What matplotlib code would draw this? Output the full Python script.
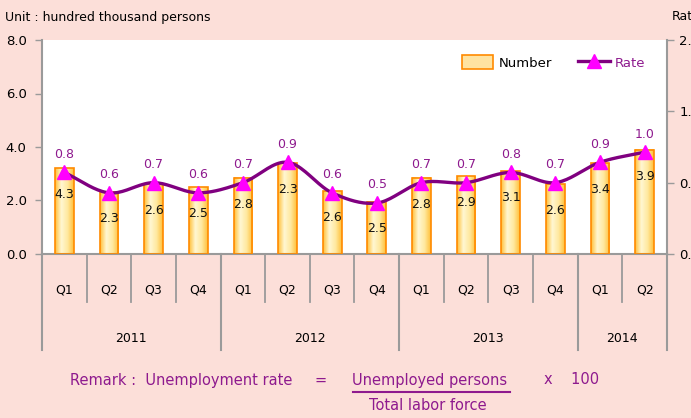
import numpy as np
import matplotlib.pyplot as plt
from matplotlib.patches import Rectangle
from matplotlib.lines import Line2D
from matplotlib.colors import LinearSegmentedColormap

# Data
quarters = ['Q1', 'Q2', 'Q3', 'Q4'] * 3 + ['Q1', 'Q2']
years = ['2011', '2012', '2013', '2014']
year_len = [4, 4, 4, 2]
number = [3.2, 2.3, 2.6, 2.5, 2.85, 3.4, 2.35, 1.95, 2.85, 2.9, 3.1, 2.6, 3.4, 3.9]
number_labels = ['4.3', '2.3', '2.6', '2.5', '2.8', '2.3', '2.6', '2.5',
                 '2.8', '2.9', '3.1', '2.6', '3.4', '3.9']
rate = [0.8, 0.6, 0.7, 0.6, 0.7, 0.9, 0.6, 0.5, 0.7, 0.7, 0.8, 0.7, 0.9, 1.0]

BG = '#FCDFD9'
PURPLE = '#800080'
TXT_PURPLE = '#8E1A8E'
GREY = '#9A9A9A'


def smooth(x, y, n=20):
    # Catmull-Rom curve through the points (like a smoothed line)
    x = np.asarray(x, float)
    y = np.asarray(y, float)
    px = np.concatenate([[2 * x[0] - x[1]], x, [2 * x[-1] - x[-2]]])
    py = np.concatenate([[2 * y[0] - y[1]], y, [2 * y[-1] - y[-2]]])
    t = np.linspace(0, 1, n, endpoint=False)
    xs, ys = [], []
    for i in range(1, len(px) - 2):
        for p, out in ((px, xs), (py, ys)):
            p0, p1, p2, p3 = p[i - 1], p[i], p[i + 1], p[i + 2]
            out.extend(0.5 * (2 * p1 + (-p0 + p2) * t
                              + (2 * p0 - 5 * p1 + 4 * p2 - p3) * t ** 2
                              + (-p0 + 3 * p1 - 3 * p2 + p3) * t ** 3))
    xs.append(x[-1])
    ys.append(y[-1])
    return np.array(xs), np.array(ys)


fig = plt.figure(figsize=(6.91, 4.18), dpi=100, facecolor=BG)
ax = fig.add_axes([42 / 691, 1 - 254 / 418, 625 / 691, 214 / 418])
ax.set_facecolor('white')

x = np.arange(len(number))
w = 0.42
cmap = LinearSegmentedColormap.from_list('bar', ['#FFC03A', '#FFF7D2', '#FFE9A0', '#FFC03A'])
grad = np.linspace(0, 1, 64).reshape(1, -1)
for xi, h, lab in zip(x, number, number_labels):
    ax.imshow(grad, extent=[xi - w / 2, xi + w / 2, 0, h], aspect='auto',
              cmap=cmap, zorder=2)
    ax.add_patch(Rectangle((xi - w / 2, 0), w, h, fill=False,
                           edgecolor='#FF8A00', lw=1.2, zorder=3))
    ax.annotate(lab, (xi, h), xytext=(0, -19), textcoords='offset points',
                ha='center', va='center', fontsize=9, color='#111111', zorder=6)

ax.set_xlim(-0.5, len(x) - 0.5)
ax.set_ylim(0, 8)
ax.set_yticks([0, 2, 4, 6, 8])
ax.set_yticklabels(['%.1f' % v for v in [0, 2, 4, 6, 8]])
ax.set_xticks([])
ax.tick_params(axis='y', length=5, width=1, color=GREY, labelsize=9.5, pad=6)
for s in ['top', 'right']:
    ax.spines[s].set_visible(False)
ax.spines['left'].set_color(GREY)
ax.spines['left'].set_linewidth(1.5)
ax.spines['bottom'].set_color(GREY)
ax.spines['bottom'].set_linewidth(1.5)

ax2 = ax.twinx()
ax2.set_ylim(0, 2.1)
ax2.set_yticks([0, 0.7, 1.4, 2.1])
ax2.set_yticklabels(['%.1f' % v for v in [0, 0.7, 1.4, 2.1]])
ax2.tick_params(axis='y', length=5, width=1, color=GREY, labelsize=9.5, pad=4)
for s in ['top', 'left', 'bottom']:
    ax2.spines[s].set_visible(False)
ax2.spines['right'].set_color(GREY)
ax2.spines['right'].set_linewidth(1.5)

sx, sy = smooth(x, rate)
ax2.plot(sx, sy, color=PURPLE, lw=2.4, zorder=4, solid_capstyle='round')
ax2.plot(x, rate, ls='none', marker='^', ms=10, mfc='#FF00FF', mec='#FF00FF', zorder=5)
for xi, r in zip(x, rate):
    ax2.annotate('%.1f' % r, (xi, r), xytext=(0, 13), textcoords='offset points',
                 ha='center', va='center', fontsize=9, color=TXT_PURPLE)

# category axis below the plot
tr = ax.get_xaxis_transform()
for b in range(1, len(x)):
    ax.plot([b - 0.5, b - 0.5], [0, -0.224], transform=tr, color=GREY, lw=1.3, clip_on=False)
start = 0
bounds = [-0.5]
for yr, n in zip(years, year_len):
    bounds.append(start + n - 0.5)
    ax.text(start + (n - 1) / 2, -0.395, yr, transform=tr, ha='center', va='center', fontsize=9)
    start += n
for b in bounds:
    ax.plot([b, b], [0, -0.449], transform=tr, color=GREY, lw=1.5, clip_on=False)
for xi, q in zip(x, quarters):
    ax.text(xi, -0.168, q, transform=tr, ha='center', va='center', fontsize=9)

# legend
handles = [Rectangle((0, 0), 1, 1, facecolor='#FFE3A0', edgecolor='#FF8A00', lw=1.2),
           Line2D([], [], color=PURPLE, lw=2.4, marker='^', ms=10, mfc='#FF00FF', mec='#FF00FF')]
leg = ax.legend(handles, ['Number', 'Rate'], ncol=2, frameon=False, loc='upper right',
                bbox_to_anchor=(0.985, 0.985), fontsize=9.5, handlelength=2.4,
                handleheight=1.3, columnspacing=2.0, handletextpad=0.4)
leg.get_texts()[1].set_color(TXT_PURPLE)

fig.text(5 / 691, 1 - 17 / 418, 'Unit : hundred thousand persons', fontsize=9, va='center')
fig.text(672 / 691, 1 - 17 / 418, 'Rate', fontsize=9, va='center')

# remark
fig.text(70 / 691, 1 - 380 / 418, 'Remark :  Unemployment rate', fontsize=10.5,
         color=TXT_PURPLE, va='center')
fig.text(315 / 691, 1 - 380 / 418, '=', fontsize=10.5, color=TXT_PURPLE, va='center')
fig.text(430 / 691, 1 - 380 / 418, 'Unemployed persons', fontsize=10.5, color=TXT_PURPLE,
         va='center', ha='center')
fig.add_artist(Line2D([353 / 691, 510 / 691], [1 - 392 / 418, 1 - 392 / 418],
                      color=TXT_PURPLE, lw=1.5))
fig.text(428 / 691, 1 - 405 / 418, 'Total labor force', fontsize=10.5, color=TXT_PURPLE,
         va='center', ha='center')
fig.text(544 / 691, 1 - 380 / 418, 'x    100', fontsize=10.5, color=TXT_PURPLE, va='center')

fig.savefig('out.png', dpi=100, facecolor=BG)
